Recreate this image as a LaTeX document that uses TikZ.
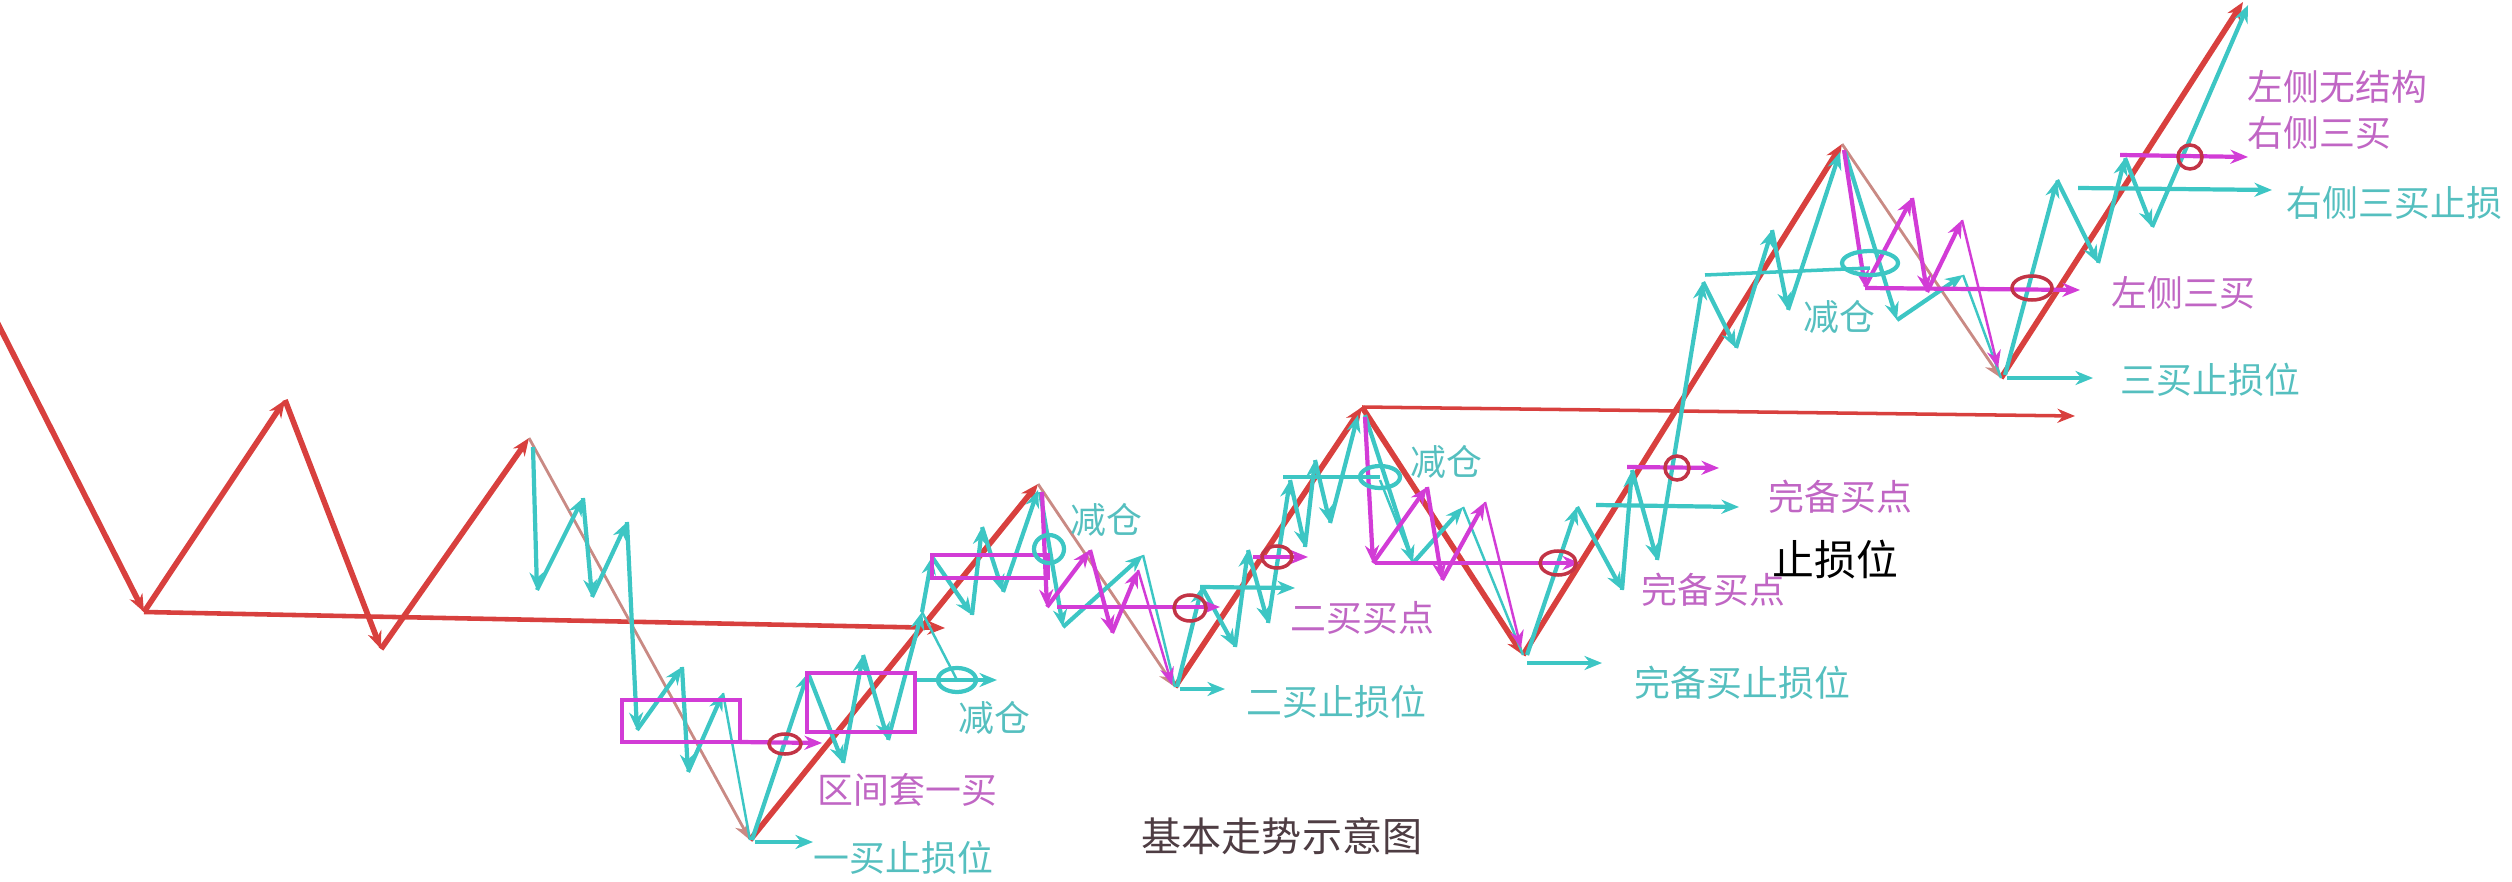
\documentclass[tikz,border=0pt]{standalone}
\usepackage{fontspec}
\setmainfont{Noto Sans CJK SC}
\usepackage{tikz}
\usetikzlibrary{arrows.meta}
\definecolor{trend}{HTML}{D8403E}
\definecolor{trendL}{HTML}{C98A84}
\definecolor{sub}{HTML}{3DC6C4}
\definecolor{subT}{HTML}{55BFBF}
\definecolor{mag}{HTML}{D23CD6}
\definecolor{magT}{HTML}{C066C4}
\definecolor{ringc}{HTML}{C23446}

% zigzag with an arrow tip on every leg
\newcommand{\zigzag}[4]{%
  \foreach \x/\y [remember=\x as \lx (initially #2), remember=\y as \ly (initially #3)] in {#4}
    \draw[#1] (\lx,\ly) -- (\x,\y);}

\begin{document}
\begin{tikzpicture}[x=0.01cm, y=-0.01cm, >={Stealth[length=5pt,width=4pt]},
  trendthick/.style={trend, line width=1.6pt, ->},
  trendthin/.style={trendL, line width=0.8pt, ->},
  cy/.style={sub, line width=1.2pt, ->},
  cythin/.style={sub, line width=0.7pt},
  mg/.style={mag, line width=1.2pt, ->},
  ringred/.style={draw=ringc, line width=1pt},
  ringcy/.style={draw=sub, line width=1.2pt},
  zone/.style={draw=mag, line width=1.3pt},
  lbl/.style={inner sep=0pt, anchor=west, font=\fontsize{10.2pt}{12pt}\selectfont},
]
\useasboundingbox (0,0) rectangle (2512,882);
\clip (0,0) rectangle (2512,882);

% trend pivots
\coordinate (r0) at (-5,318);
\coordinate (r1) at (144,612);
\coordinate (r2) at (285,400);
\coordinate (r3) at (381,649);
\coordinate (r4) at (529,438);
\coordinate (r5) at (750,840);
\coordinate (r6) at (1038,484);
\coordinate (r7) at (1175,687);
\coordinate (r8) at (1362,407);
\coordinate (r9) at (1523,655);
\coordinate (r10) at (1842,144);
\coordinate (r11) at (2001,378);
\coordinate (r12) at (2243,2);
\coordinate (h1) at (945,628);
\coordinate (h2) at (2075,416);

% central levels
\draw[trendthick, line width=1.3pt] (r1) -- (h1);
\draw[trendthin, trend, line width=1pt] (r8) -- (h2);

% trend legs
\foreach \a/\b/\s in {r0/r1/trendthick, r1/r2/trendthick, r2/r3/trendthick, r3/r4/trendthick,
  r4/r5/trendthin, r5/r6/trendthick, r6/r7/trendthin, r7/r8/trendthick, r8/r9/trendthick,
  r9/r10/trendthick, r10/r11/trendthin, r11/r12/trendthick}
  \draw[\s] (\a) -- (\b);

% sub-level moves
\zigzag{cy}{533}{447}{537/590, 583/498, 592/597, 627/522, 637/730, 682/667, 688/772, 723/693}
\draw[cythin] (723,693) -- (r5);
\zigzag{cy}{752}{840}{808/673, 843/763, 863/655, 888/740, 922/612, 932/557, 972/615, 982/527, 1003/592, 1038/490}
\draw[cythin] (922,612) -- (957,680);
\zigzag{cy}{1040}{492}{1063/627, 1143/555}
\draw[cythin] (1143,555) -- (r7);
\zigzag{cy}{1177}{687}{1202/587, 1235/647, 1248/550, 1268/623, 1290/480, 1305/547, 1315/460, 1330/523, 1358/415}
\zigzag{cy}{1365}{415}{1413/563, 1463/507}
\draw[cythin] (1380,480) -- (1413,563);
\draw[cythin] (1463,507) -- (r9);
\zigzag{cy}{1527}{655}{1577/507, 1622/590, 1632/470, 1657/560, 1703/282, 1736/348, 1772/230, 1788/310, 1840/152}
\zigzag{cy}{1845}{152}{1897/320, 1963/275}
\draw[cythin] (1963,275) -- (r11);
\zigzag{cy}{2005}{375}{2057/180, 2098/263, 2125/158, 2152/227, 2248/5}

% magenta moves
\zigzag{mg}{1042}{492}{1047/607, 1090/550, 1112/633, 1138/570}
\draw[mg, line width=0.7pt] (1138,570) -- (1172,685);
\zigzag{mg}{1365}{417}{1373/563, 1427/487, 1442/580, 1485/502}
\draw[mg, line width=0.7pt] (1485,502) -- (1521,648);
\zigzag{mg}{1844}{150}{1865/287, 1912/198, 1927/292, 1962/220}
\draw[mg, line width=0.7pt] (1962,220) -- (1998,368);

% stop and signal levels
\foreach \xa/\ya/\xb/\yb in {755/842/813/842, 917/680/997/680, 1180/689/1225/689, 1200/587/1295/588,
  1527/663/1602/663, 1596/505/1739/507, 2007/378/2093/378, 2078/188/2272/190}
  \draw[cy] (\xa,\ya) -- (\xb,\yb);
\draw[sub, line width=1pt] (1283,477) -- (1380,477);
\draw[sub, line width=1pt] (1705,275) -- (1870,268);
\foreach \xa/\ya/\xb/\yb in {740/742/822/743, 1057/607/1220/607, 1253/557/1308/557, 1375/563/1580/563,
  1627/467/1719/468, 1865/288/2080/290, 2120/155/2248/157}
  \draw[mg] (\xa,\ya) -- (\xb,\yb);

% ranges
\draw[zone] (622,700) rectangle (740,742);
\draw[zone] (807,673) rectangle (915,732);
\draw[zone] (932,555) rectangle (1048,578);

% marks
\foreach \cx/\cy/\rx/\ry in {785/744/16/10, 1190/608/16/13, 1277/557/15/11, 1558/563/18/12,
  1677/468/12/12, 2032/288/20/12, 2190/157/12/12}
  \draw[ringred] (\cx,\cy) ellipse [x radius=\rx, y radius=\ry];
\foreach \cx/\cy/\rx/\ry in {957/680/19/12, 1049/549/15/14, 1380/477/20/11, 1870/263/28/12}
  \draw[ringcy] (\cx,\cy) ellipse [x radius=\rx, y radius=\ry];

% labels
\node[lbl, magT] (qjt) at (817,790) {区间套一买};
\node[lbl, subT] (ymzs) at (813,858) {一买止损位};
\node[lbl, subT] (jc1) at (958,718) {减仓};
\node[lbl, subT] (jc2) at (1070,520) {减仓};
\node[lbl, magT] (emmd) at (1290,618) {二买买点};
\node[lbl, subT] (emzs) at (1246,702) {二买止损位};
\node[lbl, subT] (jc3) at (1410,462) {减仓};
\node[lbl, magT] (wbmd) at (1768,497) {完备买点};
\node[lbl, black, font=\fontsize{11.9pt}{14pt}\selectfont] (zsw) at (1772,560) {止损位};
\node[lbl, magT] (wbmd2) at (1641,590) {完备买点};
\node[lbl, subT] (wbzs) at (1634,683) {完备买止损位};
\node[lbl, subT] (jc4) at (1803,317) {减仓};
\node[lbl, magT] (zcsm) at (2111,293) {左侧三买};
\node[lbl, subT] (smzs) at (2120,380) {三买止损位};
\node[lbl, magT] (zcwjg) at (2247,87) {左侧无结构};
\node[lbl, magT] (ycsm) at (2247,133) {右侧三买};
\node[lbl, subT] (ycsmzs) at (2286,203) {右侧三买止损};
\node[lbl, black!80!magenta, font=\fontsize{11.4pt}{13pt}\selectfont] (title) at (1141,836) {基本走势示意图};
\end{tikzpicture}
\end{document}
